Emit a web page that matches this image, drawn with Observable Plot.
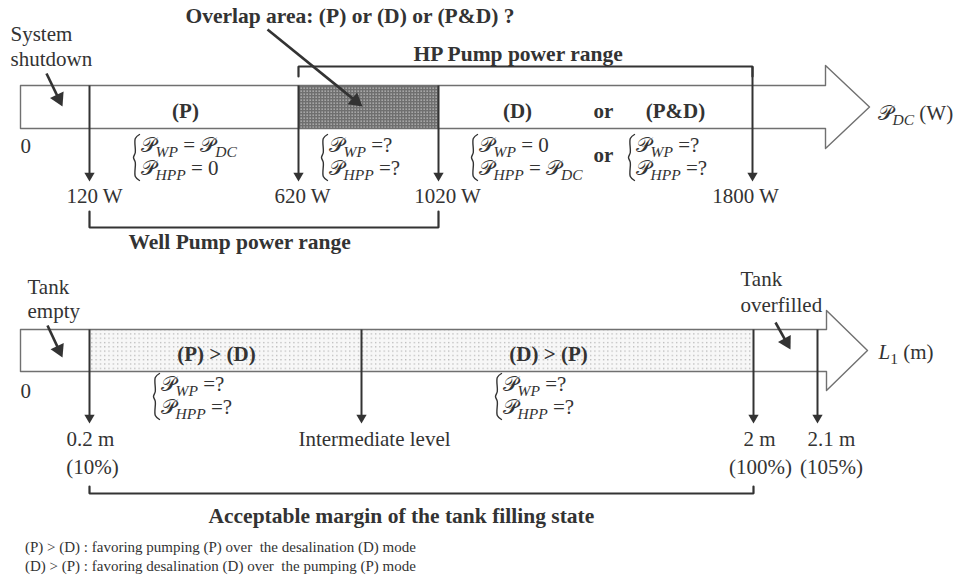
<!DOCTYPE html>
<html><head><meta charset="utf-8">
<script src="https://cdn.jsdelivr.net/npm/d3@7"></script>
<script src="https://cdn.jsdelivr.net/npm/@observablehq/plot@0.6"></script>
<style>
html,body{margin:0;padding:0;background:#fff;}
#chart{width:966px;}
.note{font-family:"Liberation Serif","Times New Roman",serif;font-size:15px;color:#333;padding-left:25px;line-height:19px;margin-top:3px;}
</style></head><body><div id="chart"></div>
<script>
// ---------------- data ----------------
// Upper axis: DC power (W)
const powerValues = [0, 120, 620, 1020, 1800];
const powerArrows = [120, 620, 1020, 1800];
const powerArrowLabels = ["120 W", "620 W", "1020 W", "1800 W"];
const wellPumpRange = [120, 1020];
const hpPumpRange = [620, 1800];
const overlapRange = [620, 1020];
const powerModes = ["(P)", "(D)", "or", "(P&D)"];
const powerEquations = [
  ["𝒫_{WP} = 𝒫_{DC}", "𝒫_{HPP} = 0"],
  ["𝒫_{WP} =?", "𝒫_{HPP} =?"],
  ["𝒫_{WP} = 0", "𝒫_{HPP} = 𝒫_{DC}"],
  ["𝒫_{WP} =?", "𝒫_{HPP} =?"]
];

// Lower axis: tank level L1 (m); the intermediate level is unlabelled (position estimated)
const levelValues = [0, 0.2, 0.94, 2, 2.1];
const levelArrows = [0.2, 0.94, 2, 2.1];
const levelArrowLabels = ["0.2 m", "Intermediate level", "2 m", "2.1 m"];
const levelArrowPercents = ["(10%)", "", "(100%)", "(105%)"];
const acceptableRange = [0.2, 2];
const levelModes = ["(P) > (D)", "(D) > (P)"];
const levelEquations = [
  ["𝒫_{WP} =?", "𝒫_{HPP} =?"],
  ["𝒫_{WP} =?", "𝒫_{HPP} =?"]
];

const footnotes = [
  "(P) > (D) : favoring pumping (P) over\u00a0 the desalination (D) mode",
  "(D) > (P) : favoring desalination (D) over\u00a0 the pumping (P) mode"
];

// ---------------- layout (schematic, non-linear axes) ----------------
const powerPx = [20, 89, 298, 438, 752];
const levelPx = [20, 89, 361, 753, 817];
const powerLabelShift = [5, 4, 9, -7];
const levelLabelShift = [1, 13, 6, 14];
const levelPercentShift = [3, 0, 7, 14];
const FONT = "'Liberation Serif','Times New Roman',serif";
const INK = "#333";
const TRI = 0.7776; // d3 triangle: centroid-to-base distance per unit r

function arrowOutline(inv, a) {
  const ym = (a.headTop + a.headBot) / 2;
  return [[a.x0, a.yTop], [a.x1, a.yTop], [a.x1, a.headTop], [a.tip, ym], [a.x1, a.headBot],
          [a.x1, a.yBot], [a.x0, a.yBot], [a.x0, a.yTop]].map(([x, y]) => ({x: inv(x), y}));
}
function diagArrows(list, inv, r) {
  const links = [], heads = [];
  for (const a of list) {
    const dx = a.x2 - a.x1, dy = a.y2 - a.y1, L = Math.hypot(dx, dy), ux = dx / L, uy = dy / L;
    const h = TRI * r;
    links.push({x1: inv(a.x1), y1: a.y1, x2: inv(a.x2 - 2.6 * h * ux), y2: a.y2 - 2.6 * h * uy});
    heads.push({x: inv(a.x2 - 2 * h * ux), y: a.y2 - 2 * h * uy, rot: Math.atan2(dx, -dy) * 180 / Math.PI});
  }
  return [
    Plot.link(links, {x1: "x1", y1: "y1", x2: "x2", y2: "y2", stroke: INK, strokeWidth: 2.6}),
    Plot.dot(heads, {x: "x", y: "y", rotate: "rot", symbol: "triangle", r, fill: INK})
  ];
}
function downArrows(values, y1, tipY, r) {
  const h = TRI * r;
  return [
    Plot.link(values, {x1: d => d, x2: d => d, y1, y2: tipY - 2.5 * h, stroke: INK, strokeWidth: 2}),
    Plot.dot(values, {x: d => d, y: tipY - 2 * h, symbol: "triangle", r, rotate: 180, fill: INK})
  ];
}
function bracket(range, yE, yBar) {
  return Plot.line([{x: range[0], y: yE}, {x: range[0], y: yBar}, {x: range[1], y: yBar}, {x: range[1], y: yE}],
    {x: "x", y: "y", stroke: INK, strokeWidth: 2.2, strokeLinejoin: "miter"});
}
function texts(list, inv, opts) {
  return Plot.text(list, {x: d => inv(d.px), y: "y", text: "t", lineAnchor: "bottom", fill: INK, ...opts});
}
function equationMarks(eqs, textPx, yA, yB, inv) {
  const lines = [], brace = [];
  eqs.forEach((e, i) => {
    const x0 = textPx[i] - 7, w = 6, yT = yA - 17, yE = yB + 6, yM = (yT + yE) / 2;
    [[w, yT], [0.3 * w, yT + 4], [0.3 * w, yM - 5], [0, yM], [0.3 * w, yM + 5], [0.3 * w, yE - 4], [w, yE]]
      .forEach(([dx, y]) => brace.push({id: i, x: inv(x0 + dx), y}));
    lines.push({px: textPx[i], y: yA, t: e[0]});
    lines.push({px: textPx[i], y: yB, t: e[1]});
  });
  return [
    Plot.line(brace, {x: "x", y: "y", z: "id", curve: "catmull-rom", stroke: INK, strokeWidth: 1.4}),
    Plot.text(lines, {x: d => inv(d.px), y: "y", text: "t", fontSize: 21, fill: INK, lineAnchor: "bottom", textAnchor: "start"})
  ];
}
// typeset "X_{sub}" as an italic subscript (and italic Latin base letter)
function typeset(svg) {
  d3.select(svg).selectAll("text").each(function () {
    const el = d3.select(this);
    const s = this.textContent;
    if (!s.includes("_{")) return;
    el.text(null);
    const re = /(\S)_\{([^}]*)\}/gu;
    let last = 0, shift = 0, m;
    const add = (str, kind) => {
      const t = el.append("tspan").text(str);
      if (kind === "sub") {
        t.attr("dy", 5 - shift).attr("font-size", "74%").attr("font-style", /^\d+$/.test(str) ? null : "italic");
        shift = 5;
      } else {
        if (shift) t.attr("dy", -shift);
        shift = 0;
        if (kind === "base" && /[A-Za-z]/.test(str)) t.attr("font-style", "italic");
      }
    };
    while ((m = re.exec(s))) {
      if (m.index > last) add(s.slice(last, m.index), "text");
      add(m[1], "base");
      add(m[2], "sub");
      last = re.lastIndex;
    }
    if (last < s.length) add(s.slice(last), "text");
  });
}
function addPatterns(svg) {
  const defs = d3.select(svg).insert("defs", ":first-child");
  const p1 = defs.append("pattern").attr("id", "patDark").attr("patternUnits", "userSpaceOnUse").attr("width", 3).attr("height", 3);
  p1.append("rect").attr("width", 3).attr("height", 3).attr("fill", "#6f6f6f");
  p1.append("rect").attr("x", 0.5).attr("y", 0.5).attr("width", 1.3).attr("height", 1.3).attr("fill", "#c4c4c4");
  const p2 = defs.append("pattern").attr("id", "patLight").attr("patternUnits", "userSpaceOnUse").attr("width", 4.3).attr("height", 4.3);
  p2.append("rect").attr("width", 4.3).attr("height", 4.3).attr("fill", "#f7f7f7");
  p2.append("rect").attr("x", 1).attr("y", 1).attr("width", 1.1).attr("height", 1.1).attr("fill", "#a0a0a0");
}

// ---------------- upper panel ----------------
// schematic (piecewise) placement of the power values along the arrow
const xTop = d3.scaleLinear(powerValues, powerPx);
const wt = px => xTop.invert(px);
const topH = 255;
const topPlot = Plot.plot({
  width: 966, height: topH, margin: 0,
  x: {type: "linear", transform: xTop, domain: [0, 966], range: [0, 966], axis: null},
  y: {domain: [0, topH], range: [0, topH], axis: null},
  style: {fontFamily: FONT, fontSize: "21px", color: INK, background: "white", overflow: "visible"},
  marks: [
    Plot.rect([overlapRange], {x1: d => d[0], x2: d => d[1], y1: 85, y2: 128, fill: "url(#patDark)"}),
    Plot.line(arrowOutline(wt, {x0: 20, x1: 825, tip: 869, yTop: 85, yBot: 128, headTop: 65, headBot: 148}),
      {x: "x", y: "y", stroke: "#707070", strokeWidth: 1.4}),
    bracket(hpPumpRange, 76, 66),
    bracket(wellPumpRange, 211, 227),
    ...downArrows(powerArrows, d => d === hpPumpRange[1] ? 66 : 85, 181, 3.8),
    ...diagArrows([{x1: 46, y1: 73, x2: 62, y2: 106}, {x1: 267, y1: 29, x2: 362, y2: 106}], wt, 5.6),
    Plot.text(powerArrows, {x: (d, i) => wt(xTop(d) + powerLabelShift[i]), y: 202, text: (d, i) => powerArrowLabels[i], lineAnchor: "bottom", fill: INK, fontSize: 21}),
    Plot.text([powerValues[0]], {x: d => d, y: 152, text: d => String(d), textAnchor: "start", lineAnchor: "bottom", fill: INK, fontSize: 21}),
    texts([{px: 10, y: 40, t: "System"}, {px: 10, y: 65, t: "shutdown"}], wt, {textAnchor: "start", fontSize: 21}),
    texts([{px: 185, y: 22, t: "Overlap area: (P) or (D) or (P&D) ?"},
           {px: 413, y: 60, t: "HP Pump power range"},
           {px: 128, y: 248, t: "Well Pump power range"}], wt, {textAnchor: "start", fontSize: 21.5, fontWeight: "bold"}),
    texts([{px: 185, y: 117, t: powerModes[0]}, {px: 517, y: 117, t: powerModes[1]},
           {px: 603, y: 117, t: powerModes[2]}, {px: 675, y: 117, t: powerModes[3]},
           {px: 603, y: 161, t: "or"}], wt, {textAnchor: "middle", fontSize: 21, fontWeight: "bold"}),
    ...equationMarks(powerEquations, [140, 328, 478, 635], 151, 174, wt),
    texts([{px: 877, y: 119, t: "𝒫_{DC} (W)"}], wt, {textAnchor: "start", fontSize: 21})
  ]
});

// ---------------- lower panel ----------------
const xBot = d3.scaleLinear(levelValues, levelPx);
const wb = px => xBot.invert(px);
const yStart = 255, yEnd = 535;
const bottomPlot = Plot.plot({
  width: 966, height: yEnd - yStart, margin: 0,
  x: {type: "linear", transform: xBot, domain: [0, 966], range: [0, 966], axis: null},
  y: {domain: [yStart, yEnd], range: [0, yEnd - yStart], axis: null},
  style: {fontFamily: FONT, fontSize: "21px", color: INK, background: "white", overflow: "visible"},
  marks: [
    Plot.rect([acceptableRange], {x1: d => d[0], x2: d => d[1], y1: 329, y2: 371, fill: "url(#patLight)"}),
    Plot.line(arrowOutline(wb, {x0: 20, x1: 826, tip: 867, yTop: 329, yBot: 371, headTop: 310, headBot: 390}),
      {x: "x", y: "y", stroke: "#707070", strokeWidth: 1.4}),
    bracket(acceptableRange, 486, 493),
    ...downArrows(levelArrows, 329, 423, 3.8),
    ...diagArrows([{x1: 47, y1: 325, x2: 62, y2: 357}, {x1: 775, y1: 322, x2: 790, y2: 349}], wb, 5.4),
    Plot.text(levelArrows, {x: (d, i) => wb(xBot(d) + levelLabelShift[i]), y: 445, text: (d, i) => levelArrowLabels[i], lineAnchor: "bottom", fill: INK, fontSize: 21}),
    Plot.text(levelArrows, {x: (d, i) => wb(xBot(d) + levelPercentShift[i]), y: 473,
      text: (d, i) => levelArrowPercents[i], lineAnchor: "bottom", fill: INK, fontSize: 21}),
    Plot.text([levelValues[0]], {x: d => d, y: 397, text: d => String(d), textAnchor: "start", lineAnchor: "bottom", fill: INK, fontSize: 21}),
    texts([{px: 27, y: 293, t: "Tank"}, {px: 27, y: 317, t: "empty"},
           {px: 740, y: 285, t: "Tank"}, {px: 740, y: 311, t: "overfilled"}], wb, {textAnchor: "start", fontSize: 21}),
    texts([{px: 216, y: 360, t: levelModes[0]}, {px: 548, y: 360, t: levelModes[1]}], wb,
      {textAnchor: "middle", fontSize: 21, fontWeight: "bold"}),
    texts([{px: 208, y: 522, t: "Acceptable margin of the tank filling state"}], wb,
      {textAnchor: "start", fontSize: 21.5, fontWeight: "bold"}),
    ...equationMarks(levelEquations, [160, 502], 390, 413, wb),
    texts([{px: 878, y: 358, t: "L_{1} (m)"}], wb, {textAnchor: "start", fontSize: 21})
  ]
});

for (const svg of [topPlot, bottomPlot]) { addPatterns(svg); typeset(svg); }
const root = document.getElementById("chart");
root.append(topPlot, bottomPlot);
const note = document.createElement("div");
note.className = "note";
note.innerHTML = footnotes.map(s => s.replace(/&/g, "&amp;").replace(/</g, "&lt;").replace(/>/g, "&gt;")).join("<br>");
root.append(note);
</script></body></html>
